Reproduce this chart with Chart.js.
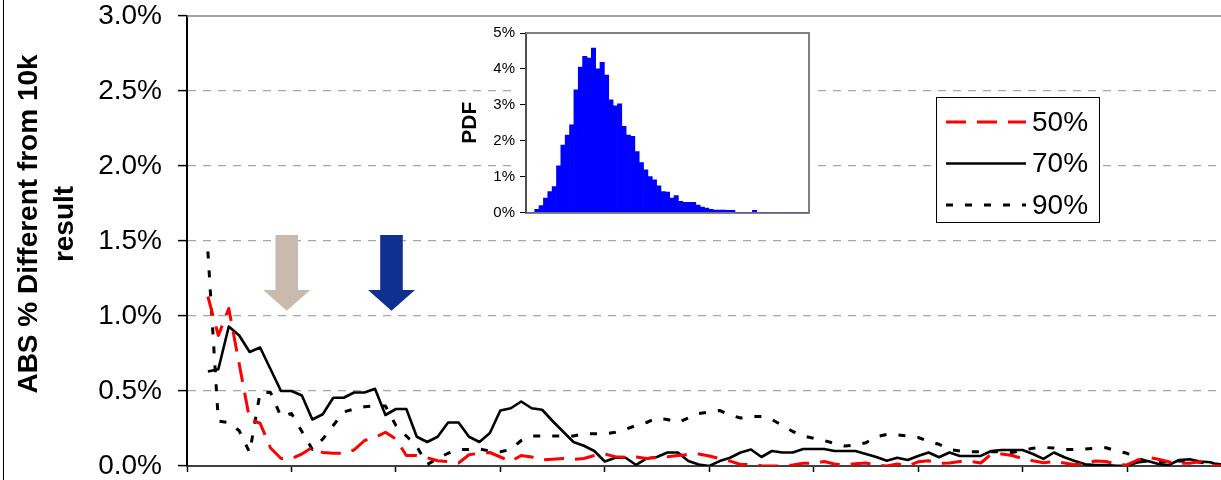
<!DOCTYPE html>
<html>
<head>
<meta charset="utf-8">
<script src="https://cdn.jsdelivr.net/npm/chart.js@4"></script>
<style>
  html, body { margin: 0; padding: 0; background: #fff; overflow: hidden; }
  #wrap { position: relative; width: 1221px; height: 480px; }
  #main { position: absolute; left: 0; top: 0; }
  #inset { position: absolute; left: 450px; top: 20px; }
</style>
</head>
<body>
<div id="wrap">
  <canvas id="main" width="1221" height="480"></canvas>
  <canvas id="inset" width="370" height="210"></canvas>
</div>
<script>
// sample index along the x axis (axis runs 0..99, ticks every 10)
const xIndex = [2, 3, 4, 5, 6, 7, 8, 9, 10, 11, 12, 13, 14, 15, 16, 17, 18, 19, 20, 21,
  22, 23, 24, 25, 26, 27, 28, 29, 30, 31, 32, 33, 34, 35, 36, 37, 38, 39, 40, 41,
  42, 43, 44, 45, 46, 47, 48, 49, 50, 51, 52, 53, 54, 55, 56, 57, 58, 59, 60, 61,
  62, 63, 64, 65, 66, 67, 68, 69, 70, 71, 72, 73, 74, 75, 76, 77, 78, 79, 80, 81,
  82, 83, 84, 85, 86, 87, 88, 89, 90, 91, 92, 93, 94, 95, 96, 97, 98, 99];

// ABS % different from 10k result
const pct50 = [1.13, 0.87, 1.05, 0.68, 0.31, 0.285, 0.12, 0.05, 0.05, 0.08,
  0.125, 0.09, 0.085, 0.085, 0.107, 0.17, 0.19, 0.225, 0.18, 0.07,
  0.07, 0.055, 0.035, 0.03, 0.02, 0.075, 0.085, 0.09, 0.06, 0.03,
  0.07, 0.06, 0.04, 0.045, 0.05, 0.045, 0.05, 0.07, 0.08, 0.062,
  0.058, 0.06, 0.05, 0.058, 0.062, 0.07, 0.075, 0.08, 0.067, 0.05,
  0.033, 0.01, 0.01, 0.002, 0, 0, 0.007, 0.018, 0.018, 0.03,
  0.013, 0.008, 0.015, 0.02, 0.005, 0, 0.013, 0, 0.028, 0.035,
  0.018, 0.02, 0.03, 0.03, 0.02, 0.08, 0.08, 0.07, 0.05, 0.035,
  0.022, 0.03, 0.02, 0.008, 0.02, 0.033, 0.03, 0.01, 0.007, 0.04,
  0.058, 0.045, 0.028, 0.018, 0.018, 0.03, 0.005, 0];

const pct70 = [0.63, 0.645, 0.93, 0.87, 0.76, 0.79, 0.645, 0.50, 0.50, 0.47,
  0.31, 0.345, 0.455, 0.455, 0.49, 0.49, 0.515, 0.34, 0.38, 0.38,
  0.195, 0.16, 0.195, 0.29, 0.29, 0.195, 0.16, 0.22, 0.37, 0.385,
  0.43, 0.385, 0.375, 0.30, 0.23, 0.16, 0.135, 0.10, 0.03, 0.055,
  0.055, 0.007, 0.05, 0.06, 0.09, 0.09, 0.033, 0.01, 0, 0.033,
  0.055, 0.09, 0.11, 0.06, 0.10, 0.09, 0.09, 0.113, 0.113, 0.113,
  0.10, 0.10, 0.10, 0.08, 0.06, 0.035, 0.055, 0.04, 0.067, 0.09,
  0.058, 0.09, 0.067, 0.067, 0.067, 0.10, 0.107, 0.107, 0.107, 0.08,
  0.047, 0.09, 0.058, 0.033, 0.011, 0.007, 0.007, 0.002, 0.002, 0.024,
  0.033, 0.013, 0.007, 0.04, 0.045, 0.03, 0.025, 0];

const pct90 = [1.43, 0.30, 0.29, 0.235, 0.09, 0.49, 0.49, 0.33, 0.35, 0.23,
  0.11, 0.18, 0.27, 0.36, 0.38, 0.395, 0.40, 0.40, 0.27, 0.20,
  0.13, 0.01, 0.05, 0.085, 0.11, 0.11, 0.113, 0.10, 0.095, 0.11,
  0.17, 0.2, 0.2, 0.2, 0.2, 0.2, 0.215, 0.215, 0.215, 0.225,
  0.245, 0.27, 0.29, 0.32, 0.31, 0.29, 0.32, 0.35, 0.36, 0.37,
  0.34, 0.32, 0.33, 0.33, 0.31, 0.27, 0.23, 0.2, 0.185, 0.17,
  0.15, 0.133, 0.14, 0.155, 0.195, 0.21, 0.207, 0.2, 0.19, 0.165,
  0.145, 0.11, 0.1, 0.095, 0.095, 0.095, 0.095, 0.09, 0.105, 0.118,
  0.124, 0.12, 0.11, 0.11, 0.113, 0.118, 0.122, 0.1, 0.085, 0.05,
  0.03, 0.03, 0.03, 0.033, 0.03, 0.025, 0.015, 0.01];

const seriesNames = ["50%", "70%", "90%"];
const yTicks = [0, 0.5, 1, 1.5, 2, 2.5, 3];
const yTitleLines = ["ABS % Different from 10k", "result"];

// inset histogram (PDF, %)
const pdfValues = [0, 0, 0.09, 0.19, 0.40, 0.58, 0.72, 1.30, 1.88, 2.16,
  2.44, 3.42, 4.05, 4.35, 4.3, 4.58, 4.0, 4.18, 3.83, 3.14,
  2.97, 3.03, 2.40, 2.16, 2.12, 1.70, 1.39, 1.19, 1.0, 0.91,
  0.74, 0.58, 0.57, 0.40, 0.47, 0.31, 0.28, 0.28, 0.28, 0.21,
  0.15, 0.12, 0.09, 0.07, 0.07, 0.07, 0.06, 0.06, 0, 0,
  0, 0, 0.06, 0, 0, 0, 0, 0, 0, 0,
  0, 0, 0, 0, 0];
const pdfTicks = [0, 1, 2, 3, 4, 5];

// arrows (x in sample index, y in %)
const arrows = [
  { x: 9.55, top: 1.54, neck: 1.173, tip: 1.035, color: "#C9BAAD" },
  { x: 19.58, top: 1.54, neck: 1.173, tip: 1.035, color: "#10308F" }
];

Chart.defaults.font.family = "'Liberation Sans', Arial, sans-serif";
Chart.defaults.color = "#000";

const FONT = "'Liberation Sans', Arial, sans-serif";

// keep label overhang from pushing the plot area in
const noPad = s => { s.paddingTop = 0; s.paddingBottom = 0; s.paddingLeft = 0; s.paddingRight = 0; };

// Y title, frame line, top border, arrows, legend
const decorPlugin = {
  id: "decor",
  afterDraw(chart) {
    const ctx = chart.ctx;
    const area = chart.chartArea;
    const xs = chart.scales.x, ys = chart.scales.y;
    ctx.save();

    // outer frame line on the left
    ctx.strokeStyle = "#000";
    ctx.lineWidth = 1;
    ctx.beginPath();
    ctx.moveTo(3.5, 0);
    ctx.lineTo(3.5, chart.height);
    ctx.stroke();

    // plot area top border
    ctx.strokeStyle = "#808080";
    ctx.lineWidth = 1.5;
    ctx.beginPath();
    ctx.moveTo(area.left, area.top);
    ctx.lineTo(area.right, area.top);
    ctx.stroke();

    // y axis title, two lines
    ctx.fillStyle = "#000";
    ctx.font = "bold 28px " + FONT;
    ctx.textAlign = "center";
    ctx.textBaseline = "alphabetic";
    const midY = 224;
    [37, 73].forEach((bx, i) => {
      ctx.save();
      ctx.translate(bx, midY);
      ctx.rotate(-Math.PI / 2);
      ctx.fillText(yTitleLines[i], 0, 0);
      ctx.restore();
    });

    // arrows
    arrows.forEach(a => {
      const cx = xs.getPixelForValue(a.x);
      const yTop = ys.getPixelForValue(a.top);
      const yNeck = ys.getPixelForValue(a.neck);
      const yTip = ys.getPixelForValue(a.tip);
      const sw = 11.3, hw = 23.5;
      ctx.fillStyle = a.color;
      ctx.beginPath();
      ctx.moveTo(cx - sw, yTop);
      ctx.lineTo(cx + sw, yTop);
      ctx.lineTo(cx + sw, yNeck);
      ctx.lineTo(cx + hw, yNeck);
      ctx.lineTo(cx, yTip);
      ctx.lineTo(cx - hw, yNeck);
      ctx.lineTo(cx - sw, yNeck);
      ctx.closePath();
      ctx.fill();
    });

    // legend box
    const bx = 936.5, by = 97.5, bw = 163, bh = 125;
    ctx.fillStyle = "#fff";
    ctx.fillRect(bx, by, bw, bh);
    ctx.strokeStyle = "#000";
    ctx.lineWidth = 1;
    ctx.strokeRect(bx, by, bw, bh);
    const rows = [122, 163.5, 205];
    chart.data.datasets.forEach((ds, i) => {
      ctx.save();
      ctx.strokeStyle = ds.borderColor;
      ctx.lineWidth = ds.borderWidth;
      ctx.lineCap = "butt";
      ctx.setLineDash(ds.borderDash || []);
      ctx.beginPath();
      ctx.moveTo(946, rows[i]);
      ctx.lineTo(1026, rows[i]);
      ctx.stroke();
      ctx.restore();
      ctx.fillStyle = "#000";
      ctx.font = "28px " + FONT;
      ctx.textAlign = "left";
      ctx.textBaseline = "middle";
      ctx.fillText(ds.label, 1032, rows[i] + 1);
    });

    ctx.restore();
  }
};

const toPoints = arr => xIndex.map((x, i) => ({ x: x, y: arr[i] }));

new Chart(document.getElementById("main"), {
  type: "line",
  data: {
    datasets: [
      {
        label: seriesNames[0],
        data: toPoints(pct50),
        borderColor: "#FF0000",
        borderWidth: 3,
        borderDash: [20, 11],
        pointRadius: 0,
        fill: false
      },
      {
        label: seriesNames[1],
        data: toPoints(pct70),
        borderColor: "#000000",
        borderWidth: 2.6,
        pointRadius: 0,
        fill: false
      },
      {
        label: seriesNames[2],
        data: toPoints(pct90),
        borderColor: "#000000",
        borderWidth: 3,
        borderDash: [7, 12],
        pointRadius: 0,
        fill: false
      }
    ]
  },
  options: {
    responsive: false,
    animation: false,
    devicePixelRatio: 1,
    layout: { padding: { top: 16, left: 0, right: 0, bottom: 0 } },
    plugins: { legend: { display: false }, tooltip: { enabled: false } },
    elements: { line: { tension: 0, borderCapStyle: "butt", borderJoinStyle: "round" } },
    scales: {
      x: {
        type: "linear",
        min: 0,
        max: 99,
        afterBuildTicks: s => { s.ticks = s.ticks.filter(t => t.value % 10 === 0); },
        afterFit: s => { s.height = 14; noPad(s); },
        ticks: { display: false, stepSize: 10 },
        grid: { drawOnChartArea: false, drawTicks: true, tickLength: 6, tickColor: "#000", tickWidth: 1.5 },
        border: { color: "#404040", width: 2 }
      },
      y: {
        min: 0,
        max: 3,
        afterBuildTicks: s => { s.ticks = yTicks.map(v => ({ value: v })); },
        afterFit: s => { s.width = 187; noPad(s); },
        ticks: {
          font: { size: 28, lineHeight: 1 },
          color: "#000",
          padding: 16,
          callback: v => v.toFixed(1) + "%"
        },
        grid: {
          color: c => (c.tick && (c.tick.value === 0 || c.tick.value === 3)) ? "rgba(0,0,0,0)" : "#a6a6a6",
          lineWidth: 1.2,
          drawTicks: true,
          tickLength: 9,
          tickColor: "#000",
          tickWidth: 1.5
        },
        border: { color: "#000", width: 2, dash: [8, 7] }
      }
    }
  },
  plugins: [decorPlugin]
});

// inset: white backing and gray frame
const insetFrame = {
  id: "insetFrame",
  beforeDraw(chart) {
    const a = chart.chartArea, ctx = chart.ctx;
    ctx.save();
    ctx.fillStyle = "#fff";
    ctx.fillRect(a.left - 9, a.top - 8, a.right - a.left + 17, a.bottom - a.top + 16);
    ctx.restore();
  },
  afterDraw(chart) {
    const a = chart.chartArea, ctx = chart.ctx;
    ctx.save();
    ctx.strokeStyle = "#808080";
    ctx.lineWidth = 2;
    ctx.beginPath();
    ctx.moveTo(a.left, a.top);
    ctx.lineTo(a.right, a.top);
    ctx.lineTo(a.right, a.bottom);
    ctx.stroke();
    ctx.restore();
  }
};

new Chart(document.getElementById("inset"), {
  type: "bar",
  data: {
    labels: pdfValues.map((_, i) => i),
    datasets: [{
      data: pdfValues,
      backgroundColor: "#0000FF",
      borderWidth: 0,
      barPercentage: 1,
      categoryPercentage: 1
    }]
  },
  options: {
    responsive: false,
    animation: false,
    devicePixelRatio: 1,
    layout: { padding: { top: 13, right: 11, left: 0, bottom: 0 } },
    plugins: { legend: { display: false }, tooltip: { enabled: false } },
    scales: {
      x: {
        afterFit: s => { s.height = 17.5; noPad(s); },
        ticks: { display: false },
        grid: { drawOnChartArea: false, drawTicks: false },
        border: { color: "#808080", width: 2 }
      },
      y: {
        min: 0,
        max: 5,
        afterBuildTicks: s => { s.ticks = pdfTicks.map(v => ({ value: v })); },
        afterFit: s => { s.width = 76; noPad(s); },
        ticks: { font: { size: 15, lineHeight: 1 }, color: "#000", padding: 5, callback: v => v + "%" },
        grid: { drawOnChartArea: false, drawTicks: true, tickLength: 6, tickColor: "#000" },
        border: { color: "#505050", width: 2 },
        title: { display: true, text: "PDF", font: { size: 21, weight: "bold" }, color: "#000", padding: { top: 8, bottom: 0 } }
      }
    }
  },
  plugins: [insetFrame]
});
</script>
</body>
</html>
